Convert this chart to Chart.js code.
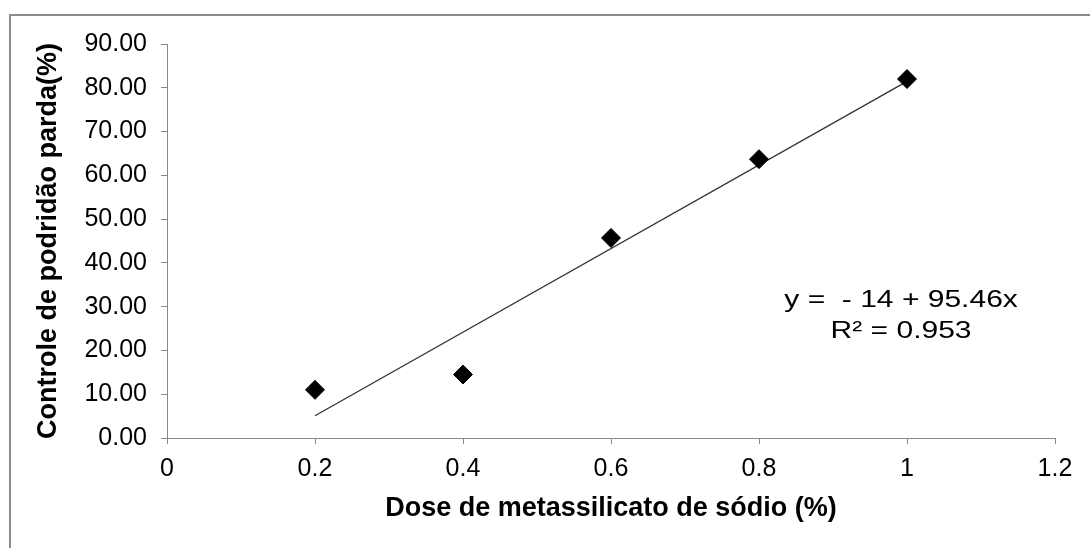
<!DOCTYPE html>
<html>
<head>
<meta charset="utf-8">
<script src="https://cdn.jsdelivr.net/npm/chart.js@4/dist/chart.umd.min.js"></script>
<style>
  body { margin: 0; background: #fff; }
  canvas { display: block; }
</style>
</head>
<body>
<canvas id="grafico" width="1090" height="548"></canvas>
<script>
// dados
var doses = [0.2, 0.4, 0.6, 0.8, 1.0];
var controle = [11.0, 14.5, 45.7, 63.7, 82.0];
var tendenciaX = [0.2, 1.0];
var tendenciaY = [5.09, 81.46];
var xTickLabels = ["0", "0.2", "0.4", "0.6", "0.8", "1", "1.2"];
var yTickLabels = ["0.00", "10.00", "20.00", "30.00", "40.00", "50.00", "60.00", "70.00", "80.00", "90.00"];
var equacao = ["y =  - 14 + 95.46x", "R\u00B2 = 0.953"];

var fonte = "'Liberation Sans', Arial, sans-serif";
Chart.defaults.font.family = fonte;
Chart.defaults.color = "#000";

var pontos = doses.map(function (d, i) { return { x: d, y: controle[i] }; });
var linha = tendenciaX.map(function (d, i) { return { x: d, y: tendenciaY[i] }; });

var moldura = {
    id: "moldura",
    beforeDraw: function (chart) {
        var ctx = chart.ctx;
        ctx.save();
        ctx.strokeStyle = "#8c8c8c";
        ctx.lineWidth = 2;
        ctx.strokeRect(10, 15, 1200, 600);
        ctx.restore();
    }
};

// texto da equacao, um pouco esticado na horizontal como no original
var textoEquacao = {
    id: "textoEquacao",
    afterDatasetsDraw: function (chart) {
        var ctx = chart.ctx;
        var sx = chart.scales.x, sy = chart.scales.y;
        var cx = sx.getPixelForValue(0.992);
        ctx.save();
        ctx.font = "24px " + fonte;
        ctx.fillStyle = "#000";
        ctx.textAlign = "center";
        ctx.textBaseline = "middle";
        ctx.translate(cx, 0);
        ctx.scale(1.25, 1);
        ctx.fillText(equacao[0], 0, sy.getPixelForValue(31.4));
        ctx.fillText(equacao[1], 0, sy.getPixelForValue(24.3));
        ctx.restore();
    }
};

var referencia = document.querySelector("#grafico").getContext("2d");

var grafico = new Chart(referencia, {
    type: "scatter",
    data: {
        datasets: [{
                label: "Controle",
                data: pontos,
                pointStyle: "rectRot",
                pointRadius: 9.5,
                pointBackgroundColor: "#000",
                pointBorderColor: "#000",
                pointBorderWidth: 1,
                order: 1
            },
            {
                label: "Linear",
                type: "line",
                data: linha,
                borderColor: "#333",
                borderWidth: 1.3,
                pointRadius: 0,
                fill: false,
                order: 2
            }
        ]
    },
    options: {
        responsive: false,
        animation: false,
        layout: {
            padding: { left: 0, top: 44, right: 35, bottom: 0 }
        },
        plugins: {
            legend: { display: false },
            tooltip: { enabled: false }
        },
        scales: {
            x: {
                type: "linear",
                min: 0,
                max: 1.2,
                afterFit: function (scale) { scale.height = 110; },
                afterBuildTicks: function (scale) {
                    scale.ticks = xTickLabels.map(function (t, i) { return { value: i * 0.2 }; });
                },
                ticks: {
                    font: { size: 25 },
                    padding: 10,
                    maxRotation: 0,
                    callback: function (v, i) { return xTickLabels[i]; }
                },
                grid: { drawOnChartArea: false, drawTicks: true, tickLength: 6, color: "#888" },
                border: { color: "#888", width: 1 },
                title: {
                    display: true,
                    text: "Dose de metassilicato de sódio (%)",
                    font: { size: 27, weight: "bold" },
                    padding: { top: 0, bottom: 23 }
                }
            },
            y: {
                min: 0,
                max: 90,
                afterFit: function (scale) { scale.width = 167; },
                afterBuildTicks: function (scale) {
                    scale.ticks = yTickLabels.map(function (t, i) { return { value: i * 10 }; });
                },
                ticks: {
                    font: { size: 25 },
                    padding: 14,
                    callback: function (v, i) { return yTickLabels[i]; }
                },
                grid: { drawOnChartArea: false, drawTicks: true, tickLength: 6, color: "#888" },
                border: { color: "#888", width: 1 },
                title: {
                    display: true,
                    text: "Controle de podridão parda(%)",
                    font: { size: 27, weight: "bold" },
                    padding: { top: 32, bottom: 0 }
                }
            }
        }
    },
    plugins: [moldura, textoEquacao]
});
</script>
</body>
</html>
